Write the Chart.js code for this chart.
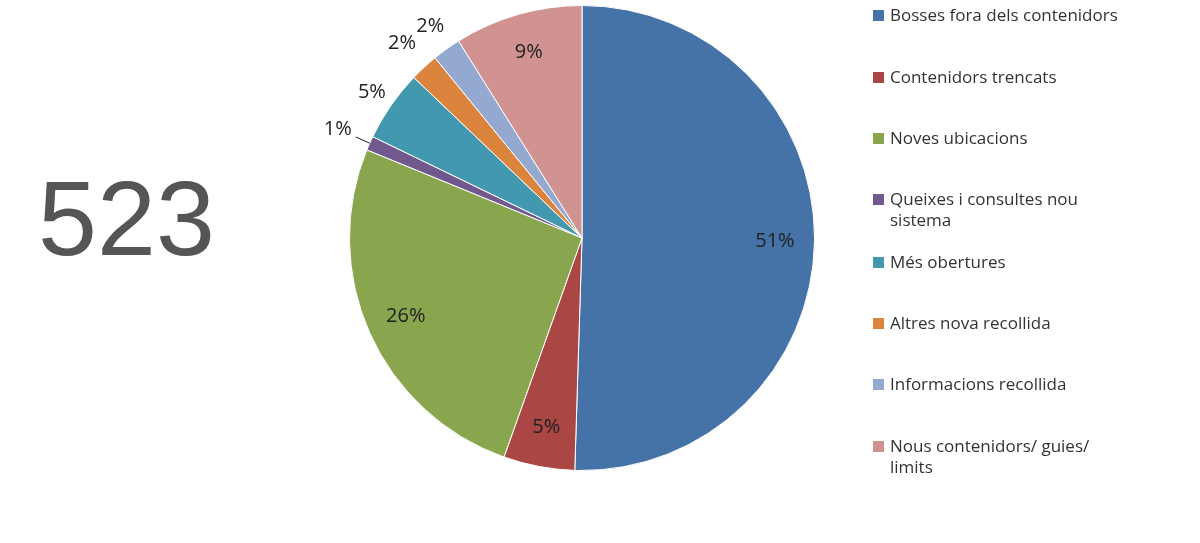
<!DOCTYPE html>
<html><head><meta charset="utf-8">
<script src="https://cdn.jsdelivr.net/npm/chart.js@4"></script>
<style>
body{margin:0;background:#fff;width:1200px;height:543px;overflow:hidden;position:relative;font-family:"Open Sans",sans-serif}
#big{position:absolute;left:38px;top:158px;font:106px "Liberation Sans",Arial,sans-serif;color:#555}
#leg{position:absolute;left:873px;top:0;font-size:17px;color:#333;line-height:21px}
.it{position:absolute;left:0;white-space:nowrap;padding-left:17px}
.sw{position:absolute;left:0;top:6px;width:11px;height:11px}
</style></head><body>
<canvas id="c" width="1200" height="543"></canvas>
<div id="big">523</div>
<div id="leg"></div>
<script>
const categories=["Bosses fora dels contenidors","Contenidors trencats","Noves ubicacions","Queixes i consultes nou sistema","Més obertures","Altres nova recollida","Informacions recollida","Nous contenidors/ guies/ limits"];
const legendLines=[["Bosses fora dels contenidors"],["Contenidors trencats"],["Noves ubicacions"],["Queixes i consultes nou","sistema"],["Més obertures"],["Altres nova recollida"],["Informacions recollida"],["Nous contenidors/ guies/","limits"]];
const values=[51,5,26,1,5,2,2,9];
const colors=["#4572a7","#aa4643","#89a54e","#71588f","#4198af","#db843d","#93a9cf","#d19392"];
const legTops=[4,66,127,188,251,312,373,435];
const leg=document.getElementById('leg');
categories.forEach((c,i)=>{const d=document.createElement('div');d.className='it';d.style.top=legTops[i]+'px';
d.innerHTML='<span class="sw" style="background:'+colors[i]+'"></span>'+legendLines[i].join('<br>');leg.appendChild(d);});
const labelPlugin={id:'lbl',afterDatasetsDraw(ch){const ctx=ch.ctx;const meta=ch.getDatasetMeta(0);
ctx.save();ctx.font='20px "Open Sans",sans-serif';ctx.fillStyle='#222';ctx.textAlign='center';ctx.textBaseline='middle';
meta.data.forEach((a,i)=>{const mid=(a.startAngle+a.endAngle)/2;const outside=i>=3&&i<=6;
const r=a.outerRadius*(outside?[0,0,0,1.15,1.1,1.14,1.12][i]:0.83);
const x=a.x+Math.cos(mid)*r,y=a.y+Math.sin(mid)*r;ctx.fillText(values[i]+'%',x,y);
if(i===3){ctx.strokeStyle='#222';ctx.lineWidth=1;ctx.beginPath();ctx.moveTo(x+18,y+8);ctx.lineTo(a.x+Math.cos(mid)*a.outerRadius,a.y+Math.sin(mid)*a.outerRadius);ctx.stroke();}});
ctx.restore();}};
new Chart(document.getElementById('c'),{type:'pie',data:{labels:categories,datasets:[{data:values,backgroundColor:colors,borderColor:'#fff',borderWidth:1}]},
options:{responsive:false,animation:false,layout:{padding:{left:349,right:385,top:5,bottom:72}},plugins:{legend:{display:false},tooltip:{enabled:false}}},plugins:[labelPlugin]});
</script></body></html>
